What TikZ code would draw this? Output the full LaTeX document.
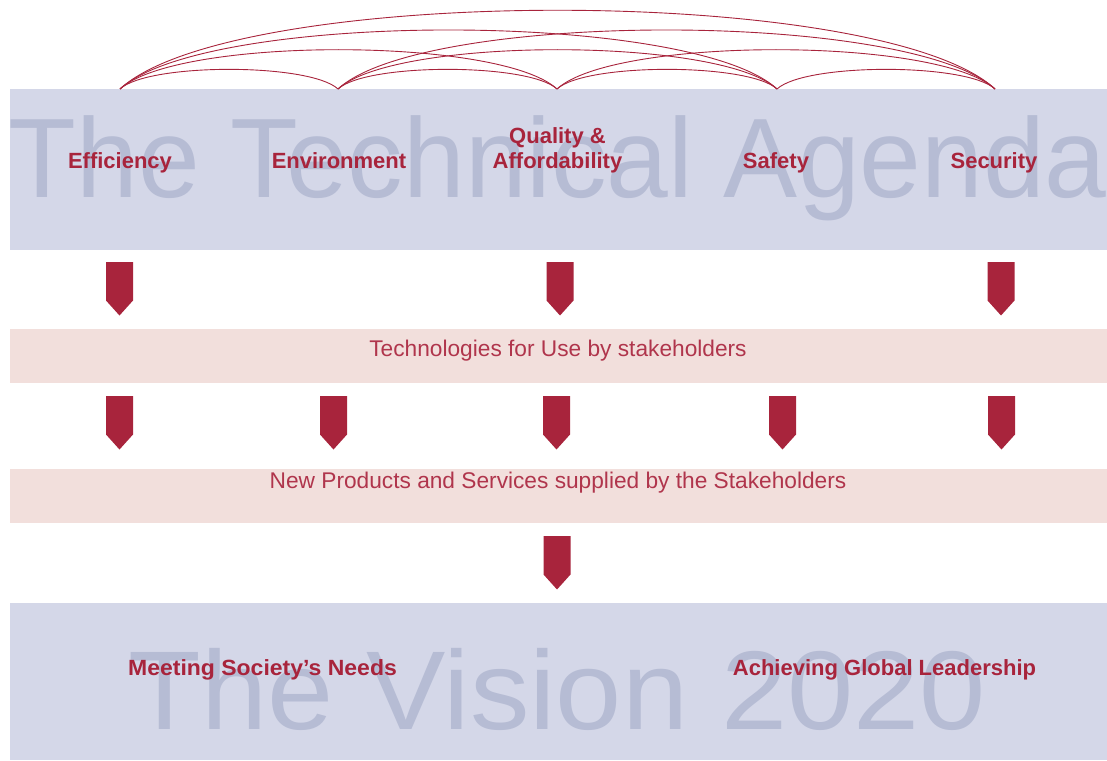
\documentclass[tikz,border=0pt]{standalone}
\usepackage{fontspec}
\usepackage{graphicx}
\setmainfont{Liberation Sans}
\definecolor{boxblue}{HTML}{D4D7E8}
\definecolor{wmark}{HTML}{B6BCD4}
\definecolor{agred}{HTML}{A8243C}
\definecolor{boxpink}{HTML}{F2DFDC}
\definecolor{pinktext}{HTML}{B0354C}
\tikzset{
  chevron/.pic={\fill[agred] (-13.5,0) -- (13.5,0) -- (13.5,38.5) -- (0,53.5) -- (-13.5,38.5) -- cycle;},
  label/.style={inner sep=0pt, anchor=base, text=agred, font=\bfseries\fontsize{22}{25}\selectfont},
  ptext/.style={inner sep=0pt, anchor=base, text=pinktext, font=\fontsize{22.7}{25}\selectfont},
  wm/.style={inner sep=0pt, anchor=base west, text=wmark, font=\fontsize{113}{113}\selectfont},
  link/.style={draw=agred, line width=0.9pt},
}
\begin{document}
\begin{tikzpicture}[x=1pt,y=-1pt]
\useasboundingbox (0,0) rectangle (1107,760);
% bands
\fill[boxblue] (10,89) rectangle (1107,250);
\fill[boxpink] (10,329) rectangle (1107,383);
\fill[boxpink] (10,469) rectangle (1107,523);
\fill[boxblue] (10,603) rectangle (1107,760);
% watermarks
\node[wm] (agenda) at (8.5,197) {\scalebox{0.982}[1]{The Technical Agenda}};
\node[wm, font=\fontsize{112}{112}\selectfont] (vision) at (128.3,729) {\scalebox{1.062}[1]{The Vision 2020}};
% labels
\node[label] (eff) at (120,168.3) {Efficiency};
\node[label] (env) at (339,168.3) {Environment};
\node[label] (qual) at (557.5,143.3) {Quality \&};
\node[label] (aff) at (557.5,168.3) {Affordability};
\node[label] (saf) at (776,168.3) {Safety};
\node[label] (sec) at (994,168.3) {Security};
\node[label] (meet) at (262.5,675) {\scalebox{1.045}[1]{Meeting Society’s Needs}};
\node[label] (ach) at (884.5,675) {Achieving Global Leadership};
\node[ptext] (tech) at (558,356.7) {Technologies for Use by stakeholders};
\node[ptext] (prod) at (558,488) {New Products and Services supplied by the Stakeholders};
% arc end points
\coordinate (t1) at (120,89);
\coordinate (t2) at (338,89);
\coordinate (t3) at (557,89);
\coordinate (t4) at (777,89);
\coordinate (t5) at (995,89);
% arcs
\draw[link] (t1) .. controls +(28.3,-26.2) and +(-28.3,-26.2) .. (t2);
\draw[link] (t2) .. controls +(28.3,-26.2) and +(-28.3,-26.2) .. (t3);
\draw[link] (t3) .. controls +(28.3,-26.2) and +(-28.3,-26.2) .. (t4);
\draw[link] (t4) .. controls +(28.3,-26.2) and +(-28.3,-26.2) .. (t5);
\draw[link] (t1) .. controls +(56.8,-52.4) and +(-56.8,-52.4) .. (t3);
\draw[link] (t2) .. controls +(56.8,-52.4) and +(-56.8,-52.4) .. (t4);
\draw[link] (t3) .. controls +(56.8,-52.4) and +(-56.8,-52.4) .. (t5);
\draw[link] (t1) .. controls +(85.3,-78.7) and +(-85.3,-78.7) .. (t4);
\draw[link] (t2) .. controls +(85.3,-78.7) and +(-85.3,-78.7) .. (t5);
\draw[link] (t1) .. controls +(113.8,-105) and +(-113.8,-105) .. (t5);
% chevrons
\pic at (119.5,262) {chevron};
\pic at (560,262) {chevron};
\pic at (1001,262) {chevron};
\pic at (119.5,396) {chevron};
\pic at (333.5,396) {chevron};
\pic at (556.5,396) {chevron};
\pic at (782.5,396) {chevron};
\pic at (1001.5,396) {chevron};
\pic at (557,536) {chevron};
\end{tikzpicture}
\end{document}
